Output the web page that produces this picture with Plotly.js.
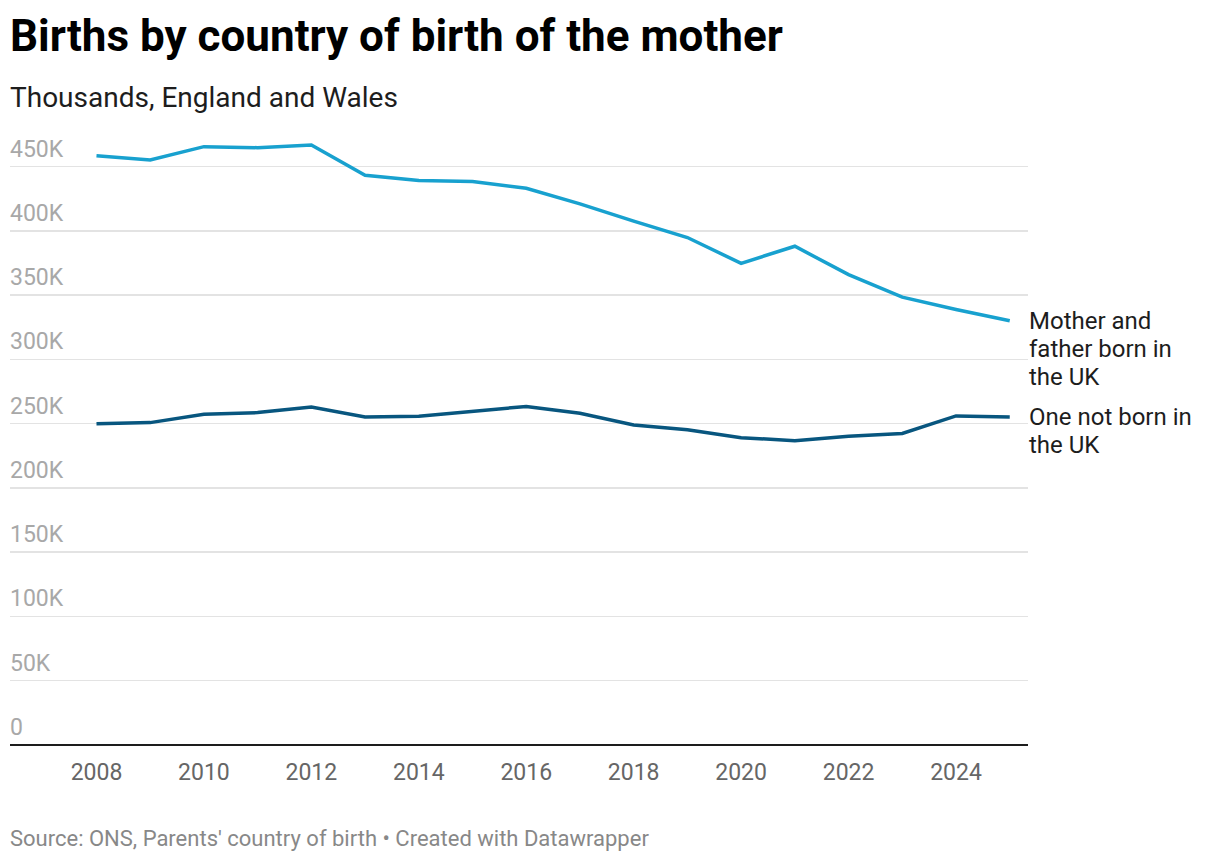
<!DOCTYPE html>
<html>
<head>
<meta charset="utf-8">
<script src="https://cdn.plot.ly/plotly-3.0.1.min.js"></script>
<style>
  body { margin: 0; background: #fff; }
  #chart { width: 1220px; height: 862px; }
</style>
</head>
<body>
<div id="chart"></div>
<script>
// values (births, England and Wales)
var years = [2008, 2009, 2010, 2011, 2012, 2013, 2014, 2015, 2016, 2017, 2018, 2019, 2020, 2021, 2022, 2023, 2024, 2025];
var bothUK = [458500, 455200, 465500, 464700, 466800, 443300, 439200, 438400, 433100, 421000, 407500, 394800, 374700, 388000, 365900, 348400, 338800, 330000];
var oneNotUK = [250000, 250800, 257300, 258600, 263000, 255200, 255700, 259600, 263400, 258100, 249000, 245300, 239100, 236700, 240100, 242400, 256000, 255200];

var xTicks = [2008, 2010, 2012, 2014, 2016, 2018, 2020, 2022, 2024];
var yTicks = [0, 50000, 100000, 150000, 200000, 250000, 300000, 350000, 400000, 450000];
var yTickText = ['0', '50K', '100K', '150K', '200K', '250K', '300K', '350K', '400K', '450K'];

var seriesNames = [['Mother and', 'father born in', 'the UK'], ['One not born in', 'the UK']];
var seriesColors = ['#18a1cf', '#08567f'];

var trace1 = {
  x: years,
  y: bothUK,
  type: 'scatter',
  mode: 'lines',
  line: { color: seriesColors[0], width: 3.5 },
  hoverinfo: 'skip'
};

var trace2 = {
  x: years,
  y: oneNotUK,
  type: 'scatter',
  mode: 'lines',
  line: { color: seriesColors[1], width: 3.5 },
  hoverinfo: 'skip'
};

// line labels sit at the right end of each line, one annotation per text row
// (plotly's own <br> spacing is looser than the original)
var lastIdx = years.length - 1;
var lineLabels = [];
[bothUK[lastIdx], oneNotUK[lastIdx]].forEach(function (v, i) {
  seriesNames[i].forEach(function (row, r) {
    lineLabels.push({
      xref: 'paper', yref: 'y',
      x: 1, y: v,
      xanchor: 'left', yanchor: 'middle',
      xshift: -1, yshift: -28 * r,
      align: 'left',
      showarrow: false,
      text: row,
      font: { family: 'Roboto, sans-serif', size: 24, color: '#1d1d1d' }
    });
  });
});

var layout = {
  width: 1220,
  height: 862,
  paper_bgcolor: '#fff',
  plot_bgcolor: '#fff',
  showlegend: false,
  margin: { l: 10, r: 192, t: 128, b: 117 },
  title: {
    text: '<b>Births by country of birth of the mother</b>',
    xref: 'container', yref: 'container',
    x: 10 / 1220, xanchor: 'left',
    y: 1 - 36 / 862, yanchor: 'middle',
    font: { family: 'Roboto, sans-serif', size: 44, color: '#000' }
  },
  xaxis: {
    range: [2006.39, 2025.34],
    tickvals: xTicks,
    ticktext: xTicks.map(String),
    showgrid: false,
    zeroline: false,
    showline: false,
    ticks: '',
    ticklabelstandoff: 11,
    tickfont: { family: 'Roboto, sans-serif', size: 23, color: '#666' },
    fixedrange: true
  },
  yaxis: {
    range: [0, 480000],
    tickvals: yTicks,
    ticktext: yTickText,
    ticklabelposition: 'inside top',
    ticks: '',
    ticklabelstandoff: -3,
    ticklabelshift: -2,
    showgrid: true,
    gridcolor: '#e3e3e3',
    gridwidth: 1.5,
    zeroline: true,
    zerolinecolor: '#1d1d1d',
    zerolinewidth: 2,
    showline: false,
    tickfont: { family: 'Roboto, sans-serif', size: 23, color: '#a8a8a8' },
    fixedrange: true
  },
  annotations: lineLabels.concat([
    {
      xref: 'paper', yref: 'paper',
      x: 0, y: 1,
      xanchor: 'left', yanchor: 'middle',
      xshift: -2, yshift: 128 - 97,
      text: 'Thousands, England and Wales',
      showarrow: false,
      font: { family: 'Roboto, sans-serif', size: 28, color: '#1d1d1d' }
    },
    {
      xref: 'paper', yref: 'paper',
      x: 0, y: 0,
      xanchor: 'left', yanchor: 'middle',
      xshift: -2, yshift: -(838 - 745),
      text: "Source: ONS, Parents' country of birth \u2022 Created with Datawrapper",
      showarrow: false,
      font: { family: 'Roboto, sans-serif', size: 22, color: '#888' }
    }
  ])
};

var config = { displayModeBar: false, staticPlot: true };

Plotly.newPlot('chart', [trace1, trace2], layout, config);
</script>
</body>
</html>
